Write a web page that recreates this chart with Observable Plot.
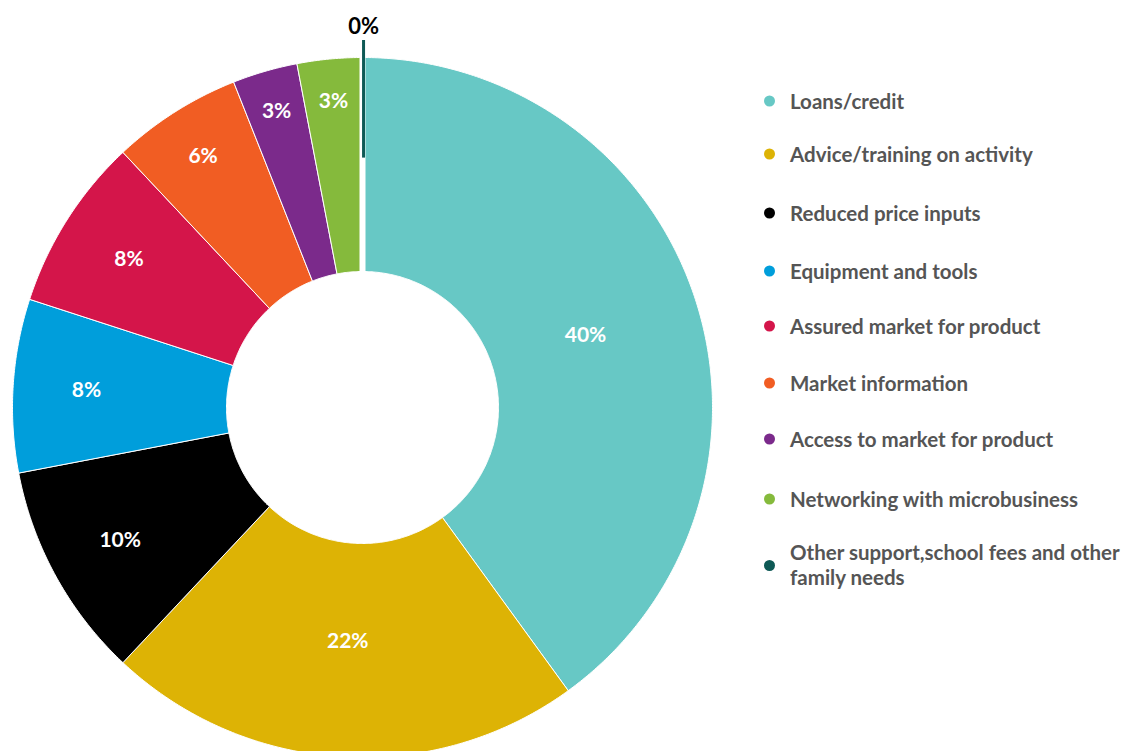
<!DOCTYPE html>
<html><head><meta charset="utf-8">
<script src="https://cdn.jsdelivr.net/npm/d3@7"></script>
<script src="https://cdn.jsdelivr.net/npm/@observablehq/plot@0.6"></script>
<style>
body{margin:0;background:#fff;font-family:Lato,"Open Sans",sans-serif;}
#wrap{position:relative;width:1126px;height:751px;overflow:hidden;}
#chart{position:absolute;left:0;top:0;}
#legend{position:absolute;left:760px;top:0;width:366px;height:751px;}
.item{position:absolute;left:0;display:flex;align-items:center;font-weight:700;font-size:20.5px;color:#555;line-height:25px;transform:translateY(-50%);white-space:normal;}
.dot{width:11px;height:11px;border-radius:50%;margin-left:4px;margin-right:15px;flex:none}
.txt{width:350px;}
</style></head><body>
<div id="wrap"><div id="chart"></div><div id="legend"></div></div>
<script>
const categories = ["Loans/credit","Advice/training on activity","Reduced price inputs","Equipment and tools","Assured market for product","Market information","Access to market for product","Networking with microbusiness","Other support,school fees and other family needs"];
const values = [40,22,10,8,8,6,3,3,0];
const labels = ["40%","22%","10%","8%","8%","6%","3%","3%","0%"];
const colors = ["#67c8c5","#ddb305","#000000","#009edb","#d4154a","#f15d23","#7b2a8b","#85ba3c","#0e5955"];

const W = 740, H = 751, cx = 362, cy = 407, R = 350;
const rIn = 136 / R;

const arcs = d3.pie().sort(null).value(d => d)(values);
const slices = arcs.map((a, i) => ({cat: categories[i], value: values[i], label: labels[i], a0: a.startAngle, a1: a.endAngle, mid: (a.startAngle + a.endAngle) / 2}));

const pts = [];
for (const s of slices) {
  if (s.value <= 0) continue;
  const n = Math.max(2, Math.ceil((s.a1 - s.a0) / (Math.PI / 360)));
  const ring = [];
  for (let k = 0; k <= n; k++) { const a = s.a0 + (s.a1 - s.a0) * k / n; ring.push([Math.sin(a), Math.cos(a)]); }
  for (let k = n; k >= 0; k--) { const a = s.a0 + (s.a1 - s.a0) * k / n; ring.push([rIn * Math.sin(a), rIn * Math.cos(a)]); }
  ring.push(ring[0]);
  for (const [x, y] of ring) pts.push({cat: s.cat, x, y});
}

const labelR = v => v >= 20 ? 0.67 : v >= 8 ? 0.79 : v >= 5 ? 0.85 : 0.88;
const inner = slices.filter(s => s.value > 0);
const zero = slices.filter(s => s.value === 0);

const chart = Plot.plot({
  width: W, height: H, margin: 0,
  x: {domain: [-cx / R, (W - cx) / R], range: [0, W], axis: null},
  y: {domain: [-(H - cy) / R, cy / R], range: [H, 0], axis: null},
  color: {domain: categories, range: colors},
  style: {background: "white"},
  marks: [
    Plot.line(pts, {x: "x", y: "y", z: "cat", fill: "cat", stroke: "white", strokeWidth: 1, curve: "linear"}),
    Plot.link(zero, {x1: d => (rIn - 0.02) * Math.sin(d.a0), y1: d => (rIn - 0.02) * Math.cos(d.a0), x2: d => 1.02 * Math.sin(d.a0), y2: d => 1.02 * Math.cos(d.a0), stroke: "white", strokeWidth: 6}),
    Plot.link(zero, {x1: d => 0.714 * Math.sin(d.a0) + 0.003, y1: d => 0.714 * Math.cos(d.a0), x2: d => 1.05 * Math.sin(d.a0) + 0.003, y2: d => 1.05 * Math.cos(d.a0), stroke: "cat", strokeWidth: 3}),
    Plot.text(inner, {x: d => labelR(d.value) * Math.sin(d.mid), y: d => labelR(d.value) * Math.cos(d.mid), text: "label", fill: "white", fontSize: 21, fontWeight: 700, fontFamily: "Lato, sans-serif"}),
    Plot.text(zero, {x: d => 1.086 * Math.sin(d.a0) + 0.003, y: d => 1.086 * Math.cos(d.a0), text: "label", fill: "black", fontSize: 22, fontWeight: 700, fontFamily: "Lato, sans-serif"})
  ]
});
document.getElementById("chart").appendChild(chart);

const legend = document.getElementById("legend");
const rowCenters = [101, 154, 213, 271, 326, 383, 439, 499, 565];
categories.forEach((c, i) => {
  const item = document.createElement("div");
  item.className = "item";
  item.style.top = rowCenters[i] + "px";
  const dot = document.createElement("span");
  dot.className = "dot";
  dot.style.background = colors[i];
  const t = document.createElement("span");
  t.className = "txt";
  t.textContent = c;
  item.appendChild(dot); item.appendChild(t);
  legend.appendChild(item);
});
</script>
</body></html>
